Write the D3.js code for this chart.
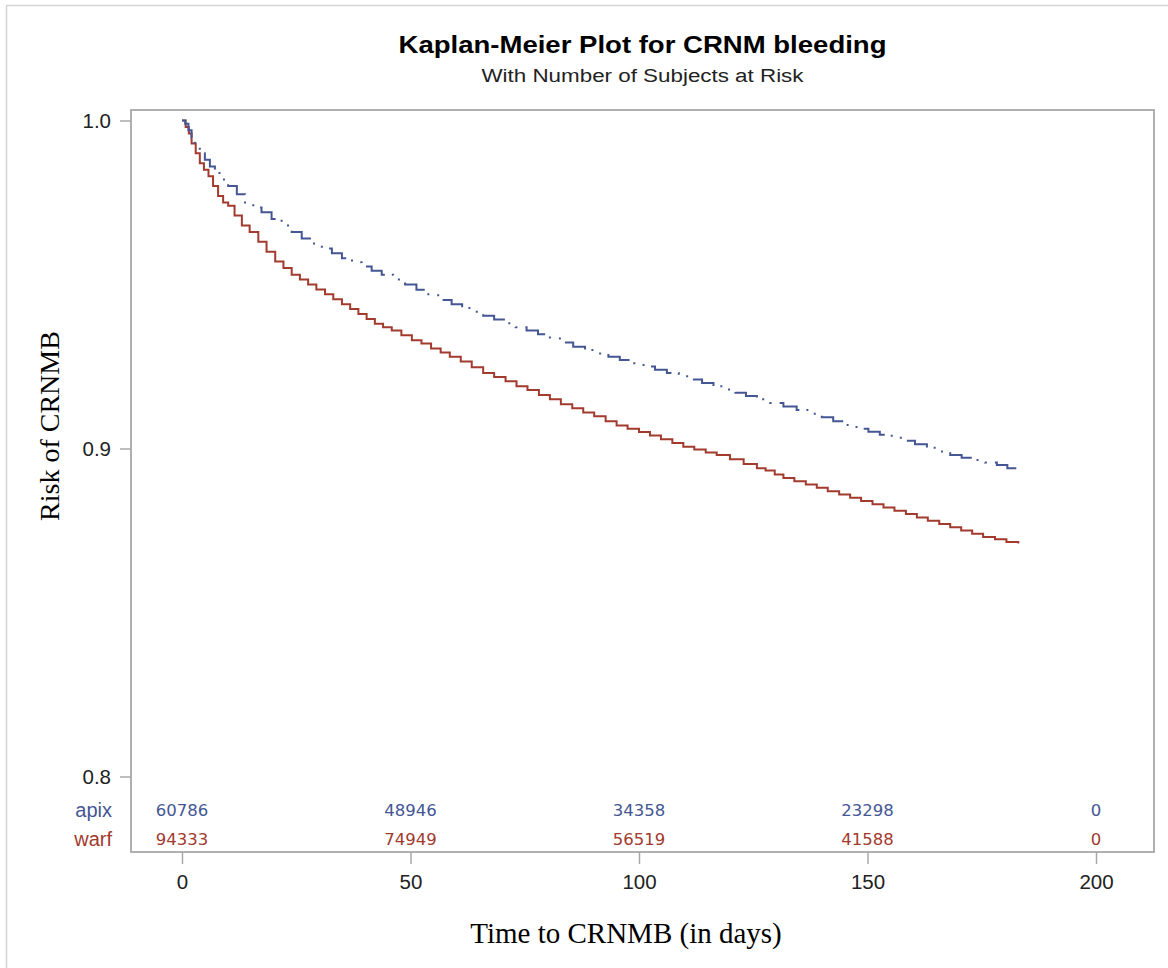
<!DOCTYPE html>
<html>
<head>
<meta charset="utf-8">
<script src="https://cdn.jsdelivr.net/npm/d3@7"></script>
<style>
  html, body { margin: 0; padding: 0; background: #fff; }
  svg { display: block; }
</style>
</head>
<body>
<svg id="chart" width="1168" height="968"></svg>
<script>
// ---- data ----
const groups = ["apix", "warf"];
const apixTime = [0, 0.7, 1.4, 2.1, 2.8, 3.9, 5.0, 6.1, 7.2, 8.6, 10.1, 12.0, 13.8, 15.6, 17.4, 19.6, 21.8, 24.0, 26.2, 28.4, 30.6, 32.8, 35.0, 37.2, 39.3, 41.5, 43.7, 46.2, 48.8, 51.3, 53.9, 56.4, 59.0, 61.3, 63.6, 65.9, 68.3, 70.7, 73.0, 75.4, 77.9, 80.5, 83.0, 85.6, 88.2, 90.7, 93.3, 95.8, 98.4, 101.0, 103.5, 106.1, 108.7, 111.2, 113.8, 116.3, 118.7, 121.1, 123.4, 125.8, 128.7, 131.6, 134.5, 137.4, 140.0, 142.5, 145.1, 147.6, 150.2, 152.7, 155.3, 157.8, 160.4, 163.0, 165.5, 168.1, 170.6, 173.2, 175.7, 178.3, 180.6, 183.0];
const apixSurv = [1.0, 0.999, 0.997, 0.9948, 0.9925, 0.990, 0.988, 0.986, 0.984, 0.982, 0.980, 0.9775, 0.975, 0.9735, 0.972, 0.970, 0.968, 0.966, 0.964, 0.9625, 0.961, 0.9595, 0.958, 0.9568, 0.9555, 0.9542, 0.953, 0.9515, 0.950, 0.9484, 0.9467, 0.9453, 0.944, 0.9428, 0.9417, 0.9405, 0.9393, 0.9382, 0.937, 0.936, 0.9348, 0.9335, 0.9323, 0.931, 0.930, 0.929, 0.928, 0.927, 0.926, 0.925, 0.924, 0.923, 0.922, 0.921, 0.920, 0.919, 0.918, 0.917, 0.916, 0.915, 0.9139, 0.9128, 0.9117, 0.9106, 0.9095, 0.9083, 0.9072, 0.906, 0.9051, 0.9042, 0.9033, 0.9024, 0.9013, 0.9002, 0.8991, 0.898, 0.8972, 0.8965, 0.8957, 0.895, 0.894, 0.893];
const warfTime = [0, 0.8, 1.5, 2.1, 3.0, 3.9, 4.8, 5.8, 6.8, 7.9, 9.0, 10.1, 11.5, 13.1, 14.8, 16.7, 18.5, 20.4, 22.2, 24.0, 25.8, 27.6, 29.4, 31.3, 33.1, 35.0, 36.8, 38.6, 40.4, 42.2, 44.0, 45.9, 48.0, 50.3, 52.4, 54.5, 56.6, 58.6, 61.0, 63.4, 65.9, 68.3, 70.8, 73.2, 75.6, 78.1, 80.5, 82.9, 85.4, 87.8, 90.2, 92.7, 95.1, 97.5, 100.0, 102.4, 104.8, 107.3, 109.7, 112.1, 114.6, 117.0, 119.9, 122.9, 125.8, 127.7, 129.7, 131.6, 134.0, 136.5, 138.9, 141.3, 143.8, 146.2, 148.6, 151.1, 153.5, 155.9, 158.4, 160.8, 163.2, 165.7, 168.1, 170.5, 172.9, 175.3, 177.9, 180.4, 183.0];
const warfSurv = [1.0, 0.998, 0.996, 0.993, 0.990, 0.987, 0.985, 0.983, 0.980, 0.977, 0.975, 0.974, 0.971, 0.968, 0.966, 0.963, 0.960, 0.957, 0.955, 0.953, 0.9515, 0.950, 0.9485, 0.947, 0.9455, 0.944, 0.9425, 0.941, 0.9395, 0.938, 0.937, 0.936, 0.9345, 0.933, 0.932, 0.9305, 0.9293, 0.928, 0.9265, 0.9248, 0.923, 0.9218, 0.9205, 0.919, 0.9178, 0.9163, 0.915, 0.9135, 0.9123, 0.911, 0.9098, 0.9083, 0.907, 0.906, 0.905, 0.904, 0.9028, 0.9017, 0.9005, 0.8997, 0.8988, 0.898, 0.8967, 0.8953, 0.894, 0.8933, 0.8921, 0.891, 0.890, 0.889, 0.888, 0.887, 0.886, 0.885, 0.884, 0.883, 0.882, 0.881, 0.880, 0.879, 0.878, 0.877, 0.876, 0.875, 0.874, 0.873, 0.8723, 0.8715, 0.871];
const riskTimes = [0, 50, 100, 150, 200];
const apixRisk = [60786, 48946, 34358, 23298, 0];
const warfRisk = [94333, 74949, 56519, 41588, 0];
const xTicks = [0, 50, 100, 150, 200];
const yTicks = [0.8, 0.9, 1.0];

const titleText = "Kaplan-Meier Plot for CRNM bleeding";
const subtitleText = "With Number of Subjects at Risk";
const xLabel = "Time to CRNMB (in days)";
const yLabel = "Risk of CRNMB";

// ---- styling / layout ----
const colors = { apix: "#445694", warf: "#A23A2E" };
const frame = { x0: 131, x1: 1154, y0: 110, y1: 852 };
const svg = d3.select("#chart");

const x = d3.scaleLinear().domain([0, 200]).range([182, 1096]);
const y = d3.scaleLinear().domain([0.8, 1.0]).range([776.5, 120.5]);

// outer border
svg.append("rect")
  .attr("x", 6.5).attr("y", 5.5).attr("width", 1175).attr("height", 975)
  .attr("fill", "none").attr("stroke", "#d4d4d4").attr("stroke-width", 1.5);

// frame
svg.append("rect")
  .attr("x", frame.x0).attr("y", frame.y0)
  .attr("width", frame.x1 - frame.x0).attr("height", frame.y1 - frame.y0)
  .attr("fill", "none").attr("stroke", "#a8a8a8").attr("stroke-width", 1.8);

// y axis
const yAxis = d3.axisLeft(y).tickValues(yTicks).tickFormat(d3.format(".1f")).tickSize(11).tickPadding(9);
const gy = svg.append("g").attr("transform", `translate(${frame.x0},0)`).call(yAxis);
gy.select(".domain").remove();
gy.selectAll(".tick line").attr("stroke", "#a8a8a8").attr("stroke-width", 1.5);
gy.selectAll(".tick text").attr("fill", "#222").style("font-family", "'Liberation Sans', Arial, sans-serif").style("font-size", "20.5px");

// x axis
const xAxis = d3.axisBottom(x).tickValues(xTicks).tickFormat(d3.format("d")).tickSize(12).tickPadding(10);
const gx = svg.append("g").attr("transform", `translate(0,${frame.y1})`).call(xAxis);
gx.select(".domain").remove();
gx.selectAll(".tick line").attr("stroke", "#a8a8a8").attr("stroke-width", 1.5);
gx.selectAll(".tick text").attr("fill", "#222").style("font-family", "'Liberation Sans', Arial, sans-serif").style("font-size", "20.5px");

// curves
const line = d3.line().x(d => x(d[0])).y(d => y(d[1])).curve(d3.curveStepAfter);
const warfData = warfTime.map((t, i) => [t, warfSurv[i]]);
const apixData = apixTime.map((t, i) => [t, apixSurv[i]]);

svg.append("path").datum(warfData)
  .attr("d", line).attr("fill", "none")
  .attr("stroke", colors.warf).attr("stroke-width", 2);

svg.append("path").datum(apixData)
  .attr("d", line).attr("fill", "none")
  .attr("stroke", colors.apix).attr("stroke-width", 2)
  .attr("stroke-dasharray", "27,7,2,9,2,8");

// at-risk table
const rowY = { apix: 817, warf: 846 };
const riskVals = { apix: apixRisk, warf: warfRisk };
groups.forEach(g => {
  svg.append("text")
    .attr("x", 112).attr("y", rowY[g])
    .attr("text-anchor", "end")
    .attr("fill", colors[g])
    .style("font-family", "'Liberation Sans', Arial, sans-serif")
    .style("font-size", "20px")
    .text(g);
  svg.selectAll(null).data(riskTimes).enter().append("text")
    .attr("x", d => x(d)).attr("y", rowY[g] - 1)
    .attr("text-anchor", "middle")
    .attr("fill", colors[g])
    .style("font-family", "'DejaVu Sans', sans-serif")
    .style("font-size", "16.5px")
    .text((d, i) => riskVals[g][i]);
});

// titles
svg.append("text")
  .attr("x", (frame.x0 + frame.x1) / 2).attr("y", 53)
  .attr("text-anchor", "middle")
  .attr("fill", "#000")
  .style("font-family", "'Liberation Sans', Arial, sans-serif")
  .style("font-weight", "bold").style("font-size", "23px")
  .attr("textLength", 488).attr("lengthAdjust", "spacingAndGlyphs")
  .text(titleText);

svg.append("text")
  .attr("x", (frame.x0 + frame.x1) / 2).attr("y", 82)
  .attr("text-anchor", "middle")
  .attr("fill", "#222")
  .style("font-family", "'Liberation Sans', Arial, sans-serif")
  .style("font-size", "18px")
  .attr("textLength", 322).attr("lengthAdjust", "spacingAndGlyphs")
  .text(subtitleText);

// axis labels
svg.append("text")
  .attr("x", 626).attr("y", 943)
  .attr("text-anchor", "middle")
  .attr("fill", "#000")
  .style("font-family", "'Liberation Serif', 'Times New Roman', serif")
  .style("font-size", "29px")
  .text(xLabel);

svg.append("text")
  .attr("transform", "translate(59,426) rotate(-90)")
  .attr("text-anchor", "middle")
  .attr("fill", "#000")
  .style("font-family", "'Liberation Serif', 'Times New Roman', serif")
  .style("font-size", "28px")
  .text(yLabel);
</script>
</body>
</html>
